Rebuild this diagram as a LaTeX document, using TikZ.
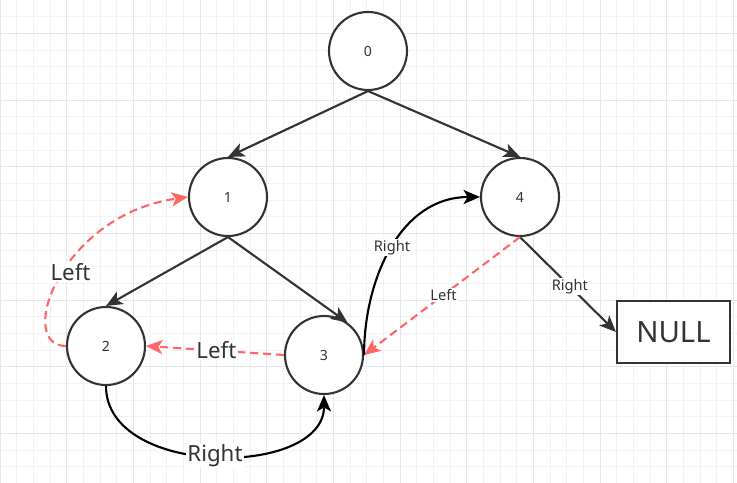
\documentclass[tikz,border=0pt]{standalone}
\usepackage{fontspec}
\setmainfont{Noto Sans}
\usetikzlibrary{arrows.meta,positioning}
\definecolor{ink}{RGB}{51,51,51}
\definecolor{thread}{RGB}{255,102,102}
\definecolor{minorgrid}{RGB}{242,242,242}
\definecolor{majorgrid}{RGB}{230,230,230}

\begin{document}
\begin{tikzpicture}[x=0.03cm,y=-0.03cm,
		vertex/.style={circle,draw=ink,line width=1.8pt,fill=white,minimum size=2.34cm,inner sep=0pt,text=ink,font=\fontsize{12}{14}\selectfont},
		nullbox/.style={rectangle,draw=ink,line width=1.8pt,fill=white,minimum width=3.39cm,minimum height=1.86cm,inner sep=0pt,text=ink,font=\fontsize{25}{28}\selectfont},
		tip/.style={-{Stealth[length=14pt,width=12pt,inset=3.5pt]}},
		treeedge/.style={draw=ink,line width=1.8pt,tip},
		rightedge/.style={draw=black,line width=1.8pt,tip},
		leftedge/.style={draw=thread,line width=1.8pt,dash pattern=on 7pt off 4pt,tip},
		biglabel/.style={fill=white,inner sep=1pt,text=ink,font=\fontsize{19}{22}\selectfont},
		smalllabel/.style={fill=white,inner sep=1pt,text=ink,font=\fontsize{12.5}{14}\selectfont}]
		\useasboundingbox (0,0) rectangle (737,483);
		% grid paper
		\fill[white] (0,0) rectangle (737,483);
		\foreach \i in {0,...,44} \draw[minorgrid,line width=0.85pt] ({\i*16.667},0) -- ({\i*16.667},483);
		\foreach \j in {0,...,29} \draw[minorgrid,line width=0.85pt] (0,{\j*16.667}) -- (737,{\j*16.667});
		\foreach \i in {0,...,11} \draw[majorgrid,line width=0.85pt] ({\i*66.667},0) -- ({\i*66.667},483);
		\foreach \j in {0,...,6} \draw[majorgrid,line width=0.85pt] (0,{33.333+\j*66.667}) -- (737,{33.333+\j*66.667});
		% tree
		\node [vertex](n0) at (368,51) {0};
		\node [vertex](n1) at (228,197) {1};
		\node [vertex](n2) at (106,346) {2};
		\node [vertex](n3) at (324,355) {3};
		\node [vertex](n4) at (520,197) {4};
		\node [nullbox](null) at (673.5,332) {NULL};
		\draw [treeedge] (n0.south) -- (n1.north);
		\draw [treeedge] (n0.south) -- (n4.north);
		\draw [treeedge] (n1.south) -- (n2.north);
		\draw [treeedge] (n1.south) -- (n3.54);
		\draw [treeedge] (n4.south) -- node [smalllabel,pos=0.52] {Right} (null.west);
		% threads
		\draw [leftedge] (n4.south) -- node [smalllabel,pos=0.49] {Left} (n3.east);
		\draw [leftedge] (n3.west) -- node [biglabel,pos=0.49] {Left} (n2.east);
		\draw [leftedge] (n2.west) .. controls (15,346) and (60,215) .. node [biglabel,pos=0.53,xshift=0.2cm] {Left} (n1.west);
		\draw [rightedge] (n2.south) .. controls (106,478) and (324,478) .. node [biglabel,pos=0.5] {Right} (n3.south);
		\draw [rightedge] (n3.east) .. controls (364,280) and (400,197) .. node [smalllabel,pos=0.5] {Right} (n4.west);
\end{tikzpicture}
\end{document}
